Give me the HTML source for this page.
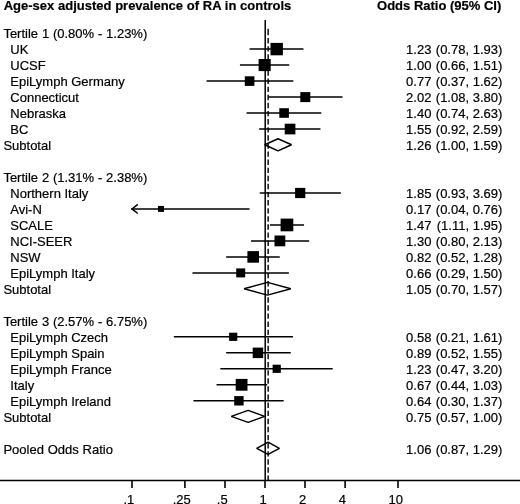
<!DOCTYPE html>
<html><head><meta charset="utf-8"><title>Forest plot</title>
<style>
html,body{margin:0;padding:0;background:#fff;}
body{width:520px;height:504px;overflow:hidden;}
svg{display:block;will-change:transform;filter:grayscale(1);}
text{font-family:"Liberation Sans",sans-serif;font-size:13px;fill:#000;stroke:#000;stroke-width:0.2px;}
.b{font-weight:bold;}
.r{text-anchor:end;}
.m{text-anchor:middle;}
</style></head><body>
<svg width="520" height="504" viewBox="0 0 520 504">
<rect width="520" height="504" fill="#fff"/>
<text class="b" x="3.7" y="9.8" style="word-spacing:0.1px">Age-sex adjusted prevalence of RA in controls</text>
<text class="b r" x="501.3" y="9.8">Odds Ratio (95% CI)</text>
<path d="M265.2 20 V480.5" stroke="#000" stroke-width="1.5" fill="none"/>
<path d="M268.15 480.85 V475.45 M268.15 472.75 V467.35 M268.15 464.65 V459.25 M268.15 456.55 V451.15 M268.15 448.45 V443.05 M268.15 440.35 V434.95 M268.15 432.25 V426.85 M268.15 424.15 V418.75 M268.15 416.05 V410.65 M268.15 407.95 V402.55 M268.15 399.85 V394.45 M268.15 391.75 V386.35 M268.15 383.65 V378.25 M268.15 375.55 V370.15 M268.15 367.45 V362.05 M268.15 359.35 V353.95 M268.15 351.25 V345.85 M268.15 343.15 V337.75 M268.15 335.05 V329.65 M268.15 326.95 V321.55 M268.15 318.85 V313.45 M268.15 310.75 V305.35 M268.15 302.65 V297.25 M268.15 294.55 V289.15 M268.15 286.45 V281.05 M268.15 278.35 V272.95 M268.15 270.25 V264.85 M268.15 262.15 V256.75 M268.15 254.05 V248.65 M268.15 245.95 V240.55 M268.15 237.85 V232.45 M268.15 229.75 V224.35 M268.15 221.65 V216.25 M268.15 213.55 V208.15 M268.15 205.45 V200.05 M268.15 197.35 V191.95 M268.15 189.25 V183.85 M268.15 181.15 V175.75 M268.15 173.05 V167.65 M268.15 164.95 V159.55 M268.15 156.85 V151.45 M268.15 148.75 V143.35 M268.15 140.65 V135.25 M268.15 132.55 V127.15 M268.15 124.45 V119.05 M268.15 116.35 V110.95 M268.15 108.25 V102.85 M268.15 100.15 V94.75 M268.15 92.05 V86.65 M268.15 83.95 V78.55 M268.15 75.85 V70.45 M268.15 67.75 V62.35 M268.15 59.65 V54.25 M268.15 51.55 V46.15 M268.15 43.45 V38.05 M268.15 35.35 V28.70" stroke="#000" stroke-width="1.4" fill="none"/>
<path d="M0 480.45 H520" stroke="#000" stroke-width="1.4" fill="none"/>
<path d="M132.0 480.45 V488.0" stroke="#000" stroke-width="1.6" fill="none"/>
<text class="m" x="128.9" y="504">.1</text>
<path d="M184.9 480.45 V488.0" stroke="#000" stroke-width="1.6" fill="none"/>
<text class="m" x="181.8" y="504">.25</text>
<path d="M225.0 480.45 V488.0" stroke="#000" stroke-width="1.6" fill="none"/>
<text class="m" x="222.2" y="504">.5</text>
<path d="M265.0 480.45 V488.0" stroke="#000" stroke-width="1.6" fill="none"/>
<text class="m" x="263.2" y="504">1</text>
<path d="M305.0 480.45 V488.0" stroke="#000" stroke-width="1.6" fill="none"/>
<text class="m" x="302.6" y="504">2</text>
<path d="M345.1 480.45 V488.0" stroke="#000" stroke-width="1.6" fill="none"/>
<text class="m" x="342.4" y="504">4</text>
<path d="M398.0 480.45 V488.0" stroke="#000" stroke-width="1.6" fill="none"/>
<text class="m" x="395.8" y="504">10</text>
<path d="M250.3 49.1 H302.7" stroke="#000" stroke-width="1.50" stroke-linecap="square" fill="none"/>
<rect x="270.5" y="42.9" width="12.4" height="12.4" fill="#000"/>
<path d="M240.7 65.1 H288.5" stroke="#000" stroke-width="1.50" stroke-linecap="square" fill="none"/>
<rect x="258.6" y="59.0" width="12.1" height="12.1" fill="#000"/>
<path d="M207.3 81.1 H292.6" stroke="#000" stroke-width="1.50" stroke-linecap="square" fill="none"/>
<rect x="244.8" y="76.3" width="9.6" height="9.6" fill="#000"/>
<path d="M269.1 97.1 H341.8" stroke="#000" stroke-width="1.50" stroke-linecap="square" fill="none"/>
<rect x="300.3" y="92.1" width="10.0" height="10.0" fill="#000"/>
<path d="M247.3 113.0 H320.6" stroke="#000" stroke-width="1.50" stroke-linecap="square" fill="none"/>
<rect x="279.3" y="108.2" width="9.6" height="9.6" fill="#000"/>
<path d="M259.9 129.0 H319.7" stroke="#000" stroke-width="1.50" stroke-linecap="square" fill="none"/>
<rect x="284.7" y="123.7" width="10.7" height="10.7" fill="#000"/>
<path d="M264.7 144.8 L278.0 138.8 L291.5 144.8 L278.0 150.9 Z" stroke="#000" stroke-width="1.50" fill="none" stroke-linejoin="bevel"/>
<path d="M260.5 193.0 H340.1" stroke="#000" stroke-width="1.50" stroke-linecap="square" fill="none"/>
<rect x="295.1" y="187.9" width="10.2" height="10.2" fill="#000"/>
<path d="M132.0 208.9 H248.8" stroke="#000" stroke-width="1.50" stroke-linecap="square" fill="none"/>
<path d="M137.8 204.3 L132.0 208.9 L137.8 213.5" stroke="#000" stroke-width="1.50" fill="none"/>
<rect x="158.0" y="205.9" width="6.0" height="6.0" fill="#000"/>
<path d="M270.7 224.9 H303.3" stroke="#000" stroke-width="1.50" stroke-linecap="square" fill="none"/>
<rect x="280.6" y="218.6" width="12.7" height="12.7" fill="#000"/>
<path d="M251.8 240.9 H308.4" stroke="#000" stroke-width="1.50" stroke-linecap="square" fill="none"/>
<rect x="274.5" y="235.5" width="10.8" height="10.8" fill="#000"/>
<path d="M226.9 256.9 H279.0" stroke="#000" stroke-width="1.50" stroke-linecap="square" fill="none"/>
<rect x="247.4" y="251.1" width="11.6" height="11.6" fill="#000"/>
<path d="M193.2 272.9 H288.1" stroke="#000" stroke-width="1.50" stroke-linecap="square" fill="none"/>
<rect x="236.2" y="268.4" width="9.0" height="9.0" fill="#000"/>
<path d="M244.1 288.8 L267.5 282.4 L290.8 288.8 L267.5 295.1 Z" stroke="#000" stroke-width="1.50" fill="none" stroke-linejoin="bevel"/>
<path d="M174.6 336.8 H292.2" stroke="#000" stroke-width="1.50" stroke-linecap="square" fill="none"/>
<rect x="229.1" y="332.7" width="8.2" height="8.2" fill="#000"/>
<path d="M226.9 352.8 H290.0" stroke="#000" stroke-width="1.50" stroke-linecap="square" fill="none"/>
<rect x="252.7" y="347.6" width="10.5" height="10.5" fill="#000"/>
<path d="M221.1 368.8 H331.9" stroke="#000" stroke-width="1.50" stroke-linecap="square" fill="none"/>
<rect x="272.6" y="364.7" width="8.2" height="8.2" fill="#000"/>
<path d="M217.3 384.8 H266.4" stroke="#000" stroke-width="1.50" stroke-linecap="square" fill="none"/>
<rect x="235.7" y="378.9" width="11.8" height="11.8" fill="#000"/>
<path d="M194.2 400.8 H282.9" stroke="#000" stroke-width="1.50" stroke-linecap="square" fill="none"/>
<rect x="234.2" y="396.1" width="9.4" height="9.4" fill="#000"/>
<path d="M231.3 416.4 L248.1 410.4 L264.7 416.4 L248.1 422.4 Z" stroke="#000" stroke-width="1.50" fill="none" stroke-linejoin="bevel"/>
<path d="M256.7 448.3 L268.1 442.2 L279.4 448.3 L268.1 454.4 Z" stroke="#000" stroke-width="1.50" fill="none" stroke-linejoin="bevel"/>
<text x="3.4" y="38.4" style="word-spacing:0.2px">Tertile 1 (0.80% - 1.23%)</text>
<text x="10.3" y="54.4">UK</text>
<text class="r" x="431.4" y="54.4">1.23</text><text class="r" x="502.3" y="54.4">(0.78, 1.93)</text>
<text x="10.3" y="70.4">UCSF</text>
<text class="r" x="431.4" y="70.4">1.00</text><text class="r" x="502.3" y="70.4">(0.66, 1.51)</text>
<text x="10.3" y="86.4">EpiLymph Germany</text>
<text class="r" x="431.4" y="86.4">0.77</text><text class="r" x="502.3" y="86.4">(0.37, 1.62)</text>
<text x="10.3" y="102.4">Connecticut</text>
<text class="r" x="431.4" y="102.4">2.02</text><text class="r" x="502.3" y="102.4">(1.08, 3.80)</text>
<text x="10.3" y="118.4">Nebraska</text>
<text class="r" x="431.4" y="118.4">1.40</text><text class="r" x="502.3" y="118.4">(0.74, 2.63)</text>
<text x="10.3" y="134.3">BC</text>
<text class="r" x="431.4" y="134.3">1.55</text><text class="r" x="502.3" y="134.3">(0.92, 2.59)</text>
<text x="3.4" y="150.3" style="word-spacing:0.2px">Subtotal</text>
<text class="r" x="431.4" y="150.3">1.26</text><text class="r" x="502.3" y="150.3">(1.00, 1.59)</text>
<text x="3.4" y="182.3" style="word-spacing:0.2px">Tertile 2 (1.31% - 2.38%)</text>
<text x="10.3" y="198.3">Northern Italy</text>
<text class="r" x="431.4" y="198.3">1.85</text><text class="r" x="502.3" y="198.3">(0.93, 3.69)</text>
<text x="10.3" y="214.3">Avi-N</text>
<text class="r" x="431.4" y="214.3">0.17</text><text class="r" x="502.3" y="214.3">(0.04, 0.76)</text>
<text x="10.3" y="230.3">SCALE</text>
<text class="r" x="431.4" y="230.3">1.47</text><text class="r" x="502.3" y="230.3">(1.11, 1.95)</text>
<text x="10.3" y="246.3">NCI-SEER</text>
<text class="r" x="431.4" y="246.3">1.30</text><text class="r" x="502.3" y="246.3">(0.80, 2.13)</text>
<text x="10.3" y="262.3">NSW</text>
<text class="r" x="431.4" y="262.3">0.82</text><text class="r" x="502.3" y="262.3">(0.52, 1.28)</text>
<text x="10.3" y="278.3">EpiLymph Italy</text>
<text class="r" x="431.4" y="278.3">0.66</text><text class="r" x="502.3" y="278.3">(0.29, 1.50)</text>
<text x="3.4" y="294.2" style="word-spacing:0.2px">Subtotal</text>
<text class="r" x="431.4" y="294.2">1.05</text><text class="r" x="502.3" y="294.2">(0.70, 1.57)</text>
<text x="3.4" y="326.2" style="word-spacing:0.2px">Tertile 3 (2.57% - 6.75%)</text>
<text x="10.3" y="342.2">EpiLymph Czech</text>
<text class="r" x="431.4" y="342.2">0.58</text><text class="r" x="502.3" y="342.2">(0.21, 1.61)</text>
<text x="10.3" y="358.2">EpiLymph Spain</text>
<text class="r" x="431.4" y="358.2">0.89</text><text class="r" x="502.3" y="358.2">(0.52, 1.55)</text>
<text x="10.3" y="374.2">EpiLymph France</text>
<text class="r" x="431.4" y="374.2">1.23</text><text class="r" x="502.3" y="374.2">(0.47, 3.20)</text>
<text x="10.3" y="390.2">Italy</text>
<text class="r" x="431.4" y="390.2">0.67</text><text class="r" x="502.3" y="390.2">(0.44, 1.03)</text>
<text x="10.3" y="406.2">EpiLymph Ireland</text>
<text class="r" x="431.4" y="406.2">0.64</text><text class="r" x="502.3" y="406.2">(0.30, 1.37)</text>
<text x="3.4" y="422.2" style="word-spacing:0.2px">Subtotal</text>
<text class="r" x="431.4" y="422.2">0.75</text><text class="r" x="502.3" y="422.2">(0.57, 1.00)</text>
<text x="3.4" y="454.1" style="word-spacing:0.2px">Pooled Odds Ratio</text>
<text class="r" x="431.4" y="454.1">1.06</text><text class="r" x="502.3" y="454.1">(0.87, 1.29)</text>
</svg>
</body></html>
